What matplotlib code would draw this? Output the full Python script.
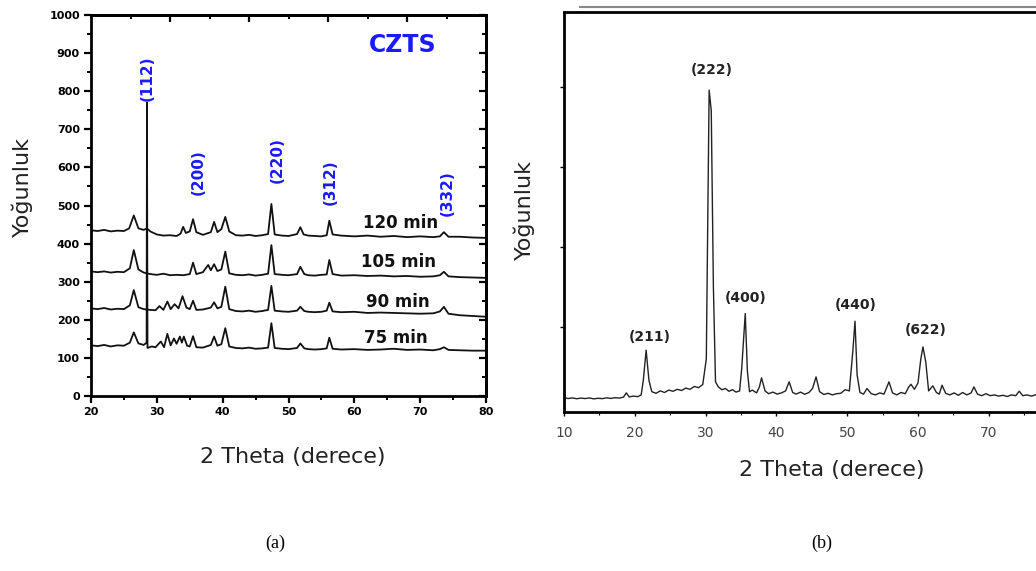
import matplotlib
matplotlib.use("Agg")
import matplotlib.pyplot as plt
from matplotlib.lines import Line2D
from matplotlib.ticker import MultipleLocator, FixedLocator, NullFormatter

# ---- panel (a): CZTS XRD traces ----
x120 = [20, 21, 22, 23, 24, 25, 25.8, 26.5, 27.2, 28, 28.5, 29, 30, 31, 32, 33, 33.6, 34.0, 34.4, 35.0,
        35.5, 36.0, 37, 38.2, 38.7, 39.2, 39.8, 40.4, 41.0, 42, 43, 44, 45, 46, 46.9, 47.4, 47.9, 49, 50,
        51.3, 51.8, 52.3, 53, 54, 55, 55.8, 56.2, 56.7, 58, 60, 62, 64, 66, 68, 70, 72, 73.0, 73.6, 74.3,
        76, 78, 80]
y120 = [435, 433, 436, 432, 434, 433, 440, 474, 440, 436, 440, 432, 424, 421, 422, 420, 426, 444, 428, 432,
        464, 430, 423, 430, 457, 430, 438, 470, 432, 422, 421, 423, 420, 422, 425, 504, 424, 421, 420,
        425, 443, 424, 421, 420, 419, 422, 460, 424, 421, 419, 421, 418, 420, 417, 419, 417, 419, 430, 418,
        418, 416, 415]

x105 = [20, 21, 22, 23, 24, 25, 25.9, 26.5, 27.2, 28, 29, 30, 31, 32, 33, 34, 35.0, 35.5, 36.0, 37.0,
        37.8, 38.2, 38.7, 39.2, 39.8, 40.4, 41.0, 42, 43, 44, 45, 46, 46.9, 47.4, 47.9, 49, 50, 51.3, 51.8,
        52.4, 53, 54, 55, 55.8, 56.2, 56.7, 58, 60, 62, 64, 66, 68, 70, 72, 73.0, 73.6, 74.3, 76, 78, 80]
y105 = [327, 325, 327, 324, 326, 325, 335, 383, 332, 324, 320, 318, 321, 317, 318, 317, 320, 350, 320, 325,
        344, 330, 346, 328, 332, 379, 322, 318, 317, 319, 316, 318, 321, 396, 320, 318, 317, 320, 339,
        320, 317, 316, 318, 319, 357, 320, 316, 317, 315, 316, 314, 315, 313, 314, 317, 326, 314, 312, 311, 310]

x90 = [20, 21, 22, 23, 24, 25, 25.9, 26.5, 27.2, 28, 29, 29.8, 30.4, 31.0, 31.6, 32.1, 32.7, 33.3, 33.9,
       34.5, 35.0, 35.5, 36.0, 37, 38.2, 38.7, 39.2, 39.8, 40.4, 41.0, 42, 43, 44, 45, 46, 46.9, 47.4,
       47.9, 49, 50, 51.3, 51.8, 52.4, 53, 54, 55, 55.8, 56.2, 56.7, 58, 60, 62, 64, 66, 68, 70, 72, 73.0,
       73.6, 74.3, 76, 78, 80]
y90 = [230, 228, 231, 227, 229, 228, 238, 278, 233, 228, 226, 225, 236, 226, 248, 228, 241, 230, 262,
       232, 228, 250, 226, 227, 232, 246, 230, 234, 287, 228, 223, 222, 224, 221, 223, 226, 289,
       224, 222, 221, 224, 234, 223, 221, 220, 221, 224, 245, 222, 220, 221, 218, 219, 218, 217, 216, 217, 222,
       234, 216, 212, 210, 208]

x75 = [20, 21, 22, 23, 24, 25, 25.9, 26.5, 27.2, 28.0, 28.45, 28.5, 28.58, 29.2, 29.8, 30.6, 31.1, 31.6,
       32.1, 32.6, 33.0, 33.5, 33.8, 34.1, 34.6, 35.0, 35.5, 36.0, 37, 38.2, 38.7, 39.2, 39.8, 40.4, 41.0,
       42, 43, 44, 45, 46, 46.9, 47.4, 47.9, 49, 50, 51.3, 51.8, 52.4, 53, 54, 55, 55.8, 56.2, 56.7, 58,
       60, 62, 64, 66, 68, 70, 72, 73.0, 73.6, 74.3, 76, 78, 80]
y75 = [133, 131, 134, 130, 133, 132, 140, 167, 138, 134, 140, 770, 126, 130, 128, 143, 128, 163,
       133, 151, 137, 156, 140, 156, 132, 130, 157, 128, 127, 134, 156, 132, 136, 178, 130,
       126, 125, 127, 124, 125, 127, 191, 126, 124, 123, 126, 138, 125, 123, 122, 123, 125, 153, 124, 122,
       123, 121, 122, 124, 121, 122, 120, 123, 128, 121, 120, 119, 119]

a_traces = [(x120, y120), (x105, y105), (x90, y90), (x75, y75)]
a_time_labels = ["120 min", "105 min", "90 min", "75 min"]
a_time_pos = [(67.0, 454), (66.7, 352), (66.6, 247), (66.3, 152)]
a_hkl = ["(112)", "(200)", "(220)", "(312)", "(332)"]
a_hkl_pos = [(28.5, 835), (36.3, 588), (48.3, 619), (56.3, 562), (74.1, 533)]

# ---- panel (b): single XRD pattern, (2theta, intensity) pairs ----
b_pattern = [
    (10, 115), (10.6, 105), (11.2, 112), (11.8, 102), (12.4, 110), (13, 104), (13.6, 112), (14.2, 100),
    (14.8, 108), (15.4, 103), (16, 113), (16.6, 106), (17.2, 115), (17.8, 110), (18.4, 122), (18.8, 175),
    (19.2, 125), (19.8, 135), (20.4, 128), (20.9, 150), (21.2, 330), (21.6, 709), (22.0, 330), (22.4, 190),
    (23, 170), (23.6, 200), (24.2, 180), (24.8, 210), (25.4, 195), (26, 220), (26.6, 205), (27.2, 235),
    (27.8, 220), (28.4, 255), (29, 240), (29.6, 280), (30.1, 600), (30.5, 3960), (30.8, 3700), (31.1, 1500),
    (31.4, 313), (31.8, 250), (32.3, 215), (32.8, 230), (33.3, 195), (33.8, 215), (34.3, 185), (34.8, 200),
    (35.1, 480), (35.6, 1167), (35.9, 450), (36.2, 190), (36.6, 210), (37.2, 175), (37.6, 250), (37.9, 363),
    (38.4, 200), (38.9, 165), (39.5, 185), (40.1, 160), (40.7, 175), (41.3, 200), (41.8, 313), (42.3, 180),
    (42.8, 160), (43.4, 185), (44, 158), (44.6, 180), (45.1, 230), (45.6, 375), (46.1, 190), (46.7, 155),
    (47.3, 170), (47.9, 150), (48.5, 165), (49.1, 170), (49.7, 215), (50.3, 200), (50.8, 700), (51.1, 1071),
    (51.4, 400), (51.8, 180), (52.3, 160), (52.8, 230), (53.4, 165), (54, 150), (54.6, 175), (55.2, 160),
    (55.9, 313), (56.4, 175), (57, 150), (57.6, 180), (58.2, 165), (58.7, 250), (59.0, 283), (59.5, 220),
    (60.0, 300), (60.4, 600), (60.7, 750), (61.1, 560), (61.5, 200), (62.1, 263), (62.6, 180), (63.0, 160),
    (63.4, 271), (63.9, 170), (64.5, 150), (65.1, 175), (65.7, 145), (66.3, 180), (66.9, 150), (67.5, 175),
    (67.9, 250), (68.4, 160), (69, 140), (69.6, 165), (70.2, 140), (70.8, 150), (71.4, 135), (72, 145),
    (72.6, 130), (73.2, 150), (73.8, 140), (74.3, 196), (74.8, 140), (75.4, 150), (76, 135), (76.6, 150),
]
b_hkl = ["(222)", "(211)", "(400)", "(440)", "(622)"]
b_hkl_pos = [(30.8, 4209), (22.1, 875), (35.7, 1355), (51.2, 1271), (61.1, 959)]

W, H = 1036, 571
fig = plt.figure(figsize=(W / 100, H / 100), dpi=100)
fig.patch.set_facecolor("white")

def fx(px):
    return px / W

def fy(py):
    return 1 - py / H

# ---------------- panel (a) ----------------
axa = fig.add_axes([fx(91), fy(396), fx(486) - fx(91), fy(15) - fy(396)])
for xs, ys in a_traces:
    axa.plot(xs, ys, color="#111111", lw=1.3)
axa.set_xlim(20, 80)
axa.set_ylim(0, 1000)
axa.xaxis.set_major_locator(MultipleLocator(10))
axa.xaxis.set_minor_locator(MultipleLocator(5))
axa.yaxis.set_major_locator(MultipleLocator(100))
axa.yaxis.set_minor_locator(MultipleLocator(50))
axa.tick_params(which="major", direction="out", length=5, width=1.6, labelsize=8, pad=3)
axa.tick_params(which="minor", direction="out", length=3, width=1.4)
for lab in axa.get_xticklabels() + axa.get_yticklabels():
    lab.set_fontweight("bold")
for s in axa.spines.values():
    s.set_linewidth(2)

top = axa.secondary_xaxis("top")
top.xaxis.set_major_locator(FixedLocator([32, 44, 56, 68]))
top.xaxis.set_minor_locator(FixedLocator([26, 38, 50, 62, 74]))
top.xaxis.set_major_formatter(NullFormatter())
top.tick_params(which="major", direction="in", length=5, width=1.6)
top.tick_params(which="minor", direction="in", length=3, width=1.4)
top.spines["top"].set_linewidth(2)

right = axa.secondary_yaxis("right")
right.yaxis.set_major_locator(MultipleLocator(100))
right.yaxis.set_minor_locator(MultipleLocator(50))
right.yaxis.set_major_formatter(NullFormatter())
right.tick_params(which="major", direction="in", length=5, width=1.6)
right.tick_params(which="minor", direction="in", length=3, width=1.4)
right.spines["right"].set_linewidth(2)

axa.text(67.4, 921, "CZTS", color="#1a1aff", fontsize=17, fontweight="bold", ha="center", va="center")
for lab, (x, y) in zip(a_hkl, a_hkl_pos):
    axa.text(x, y, lab, color="#1a1aff", fontsize=11, fontweight="bold", rotation=90,
             ha="center", va="center")
for lab, (x, y) in zip(a_time_labels, a_time_pos):
    axa.text(x, y, lab, color="#111111", fontsize=12, fontweight="bold", ha="center", va="center")

# ---------------- panel (b) ----------------
xb = [p[0] for p in b_pattern]
yb = [p[1] for p in b_pattern]
axb = fig.add_axes([fx(564), fy(411.7), 1 - fx(564), fy(11.7) - fy(411.7)])
axb.plot(xb, yb, color="#222222", lw=1.0)
axb.set_xlim(10, 10 + (W - 564) / 7.08)
axb.set_ylim(-60, 4940)
axb.xaxis.set_major_locator(MultipleLocator(10))
axb.xaxis.set_minor_locator(MultipleLocator(5))
axb.yaxis.set_major_locator(FixedLocator([1000, 2000, 3000, 4000]))
axb.yaxis.set_major_formatter(NullFormatter())
axb.tick_params(which="major", direction="out", length=3, width=1.0, labelsize=10,
                labelcolor="#444444", pad=7)
axb.tick_params(which="minor", direction="out", length=2, width=0.8)
axb.spines["right"].set_visible(False)
for side in ("left", "bottom", "top"):
    axb.spines[side].set_linewidth(2)
for lab, (x, y) in zip(b_hkl, b_hkl_pos):
    axb.text(x, y, lab, color="#222222", fontsize=10, fontweight="bold", ha="center", va="center")

fig.add_artist(Line2D([fx(580), 1.0], [fy(7.3), fy(7.3)], color="#888888", lw=1.5))

# ---------------- axis titles and captions ----------------
fig.text(fx(22), fy(187), "Yoğunluk", fontsize=16, rotation=90, ha="center", va="center", color="#222222")
fig.text(fx(293), fy(457), "2 Theta (derece)", fontsize=16, ha="center", va="center", color="#222222")
fig.text(fx(524), fy(210), "Yoğunluk", fontsize=16, rotation=90, ha="center", va="center", color="#222222")
fig.text(fx(832), fy(470), "2 Theta (derece)", fontsize=16, ha="center", va="center", color="#222222")
fig.text(fx(275), fy(543), "(a)", fontsize=13, family="Liberation Serif", ha="center", va="center")
fig.text(fx(822), fy(543), "(b)", fontsize=13, family="Liberation Serif", ha="center", va="center")

fig.savefig("out.png", dpi=100)
